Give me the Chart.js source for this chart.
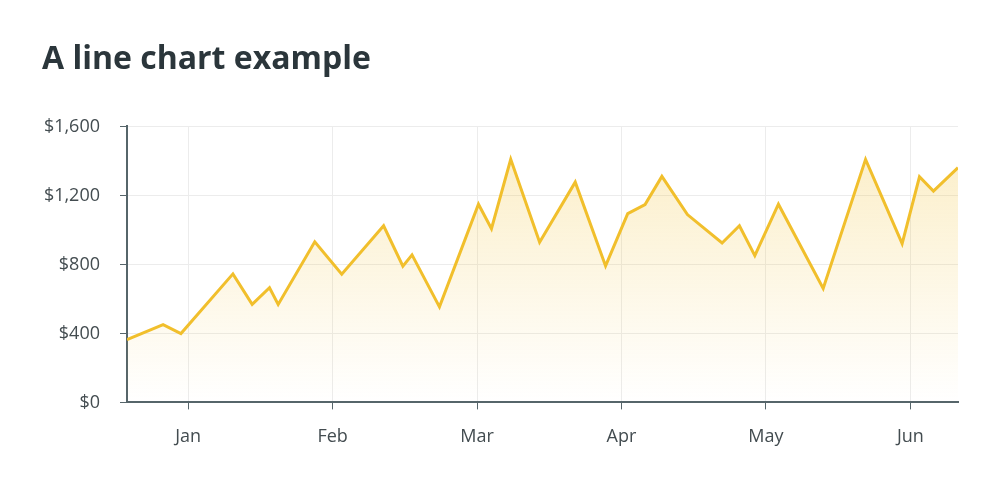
<!DOCTYPE html>
<html>
<head>
<meta charset="utf-8">
<script src="https://cdn.jsdelivr.net/npm/chart.js@4"></script>
<style>
  html, body { margin: 0; padding: 0; background: #ffffff; }
  #wrap { width: 1000px; height: 485px; }
</style>
</head>
<body>
<div id="wrap"><canvas id="c" width="1000" height="485"></canvas></div>
<script>
// Day offsets (Jan start = 0, month spacing 30 units on the axis)
const days = [-12.7, -5.2, -1.5, 9.3, 13.3, 16.9, 18.7, 26.3, 31.9, 40.6, 44.6, 46.5, 52.2,
  60.3, 63.0, 67.0, 73.0, 80.4, 86.7, 91.3, 94.9, 98.4, 103.7, 110.9, 114.5, 117.7, 122.6,
  131.9, 140.7, 148.3, 151.9, 154.8, 159.9];
const values = [364, 451, 399, 745, 568, 665, 568, 931, 743, 1024, 790, 855, 554,
  1149, 1007, 1409, 929, 1277, 791, 1094, 1147, 1310, 1089, 924, 1024, 851, 1149,
  661, 1409, 920, 1308, 1225, 1361];
const monthLabels = ['Jan', 'Feb', 'Mar', 'Apr', 'May', 'Jun'];
const monthPositions = [0, 30, 60, 90, 120, 150];
const yTicks = [0, 400, 800, 1200, 1600];

const points = days.map((d, i) => ({ x: d, y: values[i] }));
const FONT = '"Open Sans", "Noto Sans", sans-serif';

new Chart(document.getElementById('c'), {
  type: 'line',
  data: {
    datasets: [{
      data: points,
      borderColor: '#F1BF2C',
      borderWidth: 3,
      pointRadius: 0,
      tension: 0,
      fill: 'start',
      backgroundColor: (ctx) => {
        const area = ctx.chart.chartArea;
        if (!area) return 'rgba(241,191,44,0.15)';
        const g = ctx.chart.ctx.createLinearGradient(0, area.top, 0, area.bottom);
        g.addColorStop(0, 'rgba(241,191,44,0.28)');
        g.addColorStop(1, 'rgba(241,191,44,0.0)');
        return g;
      }
    }]
  },
  options: {
    responsive: false,
    animation: false,
    layout: { padding: { left: 42, right: 42, top: 0, bottom: 20 } },
    plugins: {
      legend: { display: false },
      tooltip: { enabled: false },
      title: {
        display: true,
        text: 'A line chart example',
        align: 'start',
        color: '#2b363b',
        font: { family: FONT, size: 32, weight: 'bold' },
        padding: { top: 41, bottom: 47 }
      }
    },
    scales: {
      x: {
        type: 'linear',
        min: days[0],
        max: days[days.length - 1],
        afterBuildTicks: (axis) => { axis.ticks = monthPositions.map(v => ({ value: v })); },
        ticks: {
          autoSkip: false,
          maxRotation: 0,
          padding: 17,
          color: '#434c50',
          font: { family: FONT, size: 18 },
          callback: (v) => monthLabels[monthPositions.indexOf(v)] || ''
        },
        grid: { color: '#ececec', tickColor: '#56656a', tickLength: 7, lineWidth: 1 },
        border: { color: '#56656a', width: 2 }
      },
      y: {
        min: 0,
        max: 1600,
        afterBuildTicks: (axis) => { axis.ticks = yTicks.map(v => ({ value: v })); },
        afterFit: (axis) => { axis.width = 85; },
        ticks: {
          padding: 20,
          color: '#434c50',
          font: { family: FONT, size: 18 },
          callback: (v) => '$' + Number(v).toLocaleString('en-US')
        },
        grid: { color: '#ececec', tickColor: '#56656a', tickLength: 7, lineWidth: 1 },
        border: { color: '#56656a', width: 2 }
      }
    }
  }
});
</script>
</body>
</html>
